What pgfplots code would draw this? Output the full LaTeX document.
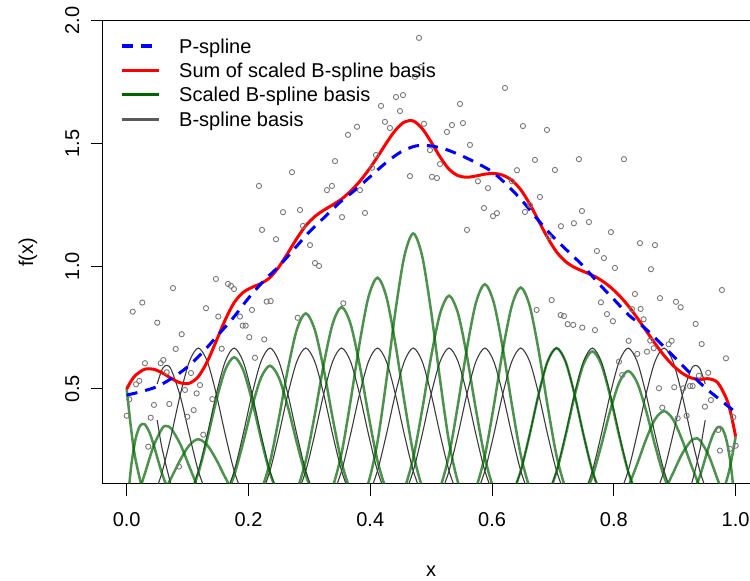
\documentclass[border=0pt]{standalone}
\usepackage{fontspec}
\setmainfont{Liberation Sans}
\usepackage{pgfplots}
\pgfplotsset{compat=1.18}
\definecolor{ptgray}{RGB}{120,120,120}
\definecolor{basisgray}{RGB}{60,60,60}
\definecolor{leggray}{RGB}{90,90,90}
\definecolor{dkgreen}{RGB}{0,100,0}
\begin{document}
\begin{tikzpicture}[font=\fontsize{10}{12}\selectfont]
\begin{axis}[
  at={(0,0)}, anchor=south west, scale only axis,
  width=328.65pt, height=231.5pt,
  xmin=-0.0394, xmax=1.04, ymin=0.1143, ymax=2.0,
  xtick={0,0.2,0.4,0.6,0.8,1.0},
  xticklabels={0.0,0.2,0.4,0.6,0.8,1.0},
  ytick={0.5,1.0,1.5,2.0},
  yticklabels={0.5,1.0,1.5,2.0},
  tick align=outside, major tick length=6pt,
  xtick pos=bottom, ytick pos=left,
  tick style={black, line width=0.5pt},
  axis line style={black, line width=0.5pt},
  xticklabel style={anchor=north, inner sep=0pt},
  xticklabel shift=8.4pt,
  yticklabel style={rotate=90, anchor=south, inner sep=0pt},
  yticklabel shift=5.5pt,
  xlabel={x}, ylabel={f(x)},
  xlabel style={at={(axis description cs:0.4998,-0.1886)}, anchor=center, inner sep=0pt},
  ylabel style={at={(axis description cs:-0.1136,0.5)}, anchor=center, inner sep=0pt},
  legend cell align=left,
  legend image code/.code={\draw[#1] (0pt,0pt) -- (18.5pt,0pt);},
  legend style={draw=none, fill=none, at={(axis description cs:0,1)}, anchor=north west,
    xshift=8.65pt, yshift=-6.55pt, inner sep=0pt, outer sep=0pt, row sep=0pt, column sep=9.5pt,
    nodes={inner sep=0pt, text height=9.7pt, text depth=2.5pt}},
]
\addlegendimage{blue, line width=1.6pt, dash pattern=on 5.5pt off 4pt}
\addlegendentry{P-spline}
\addlegendimage{red, line width=1.6pt}
\addlegendentry{Sum of scaled B-spline basis}
\addlegendimage{dkgreen, line width=1.6pt}
\addlegendentry{Scaled B-spline basis}
\addlegendimage{leggray, line width=1.6pt}
\addlegendentry{B-spline basis}

% data points
\addplot[only marks, mark=o, mark size=1.3pt, color=ptgray, mark options={line width=0.45pt}, forget plot] coordinates {
(.0099,.815)(.0256,.852)(.0502,.770)(.0300,.605)(.0153,.519)(.0207,.533)(.0043,.458)(0,.391)(.0448,.435)(.0394,.383)
(.0355,.265)(.0700,.439)(.0601,.618)(.0558,.605)(.0657,.568)(.0903,.723)(.0805,.663)(.0859,.184)(.0995,.387)(.0957,.496)
(.1100,.414)(.1149,.482)(.1204,.516)(.1056,.565)(.1302,.829)(.1504,.795)(.1406,.459)(.1258,.314)(.1560,.664)(.1860,.795)
(.1905,.758)(.1954,.758)(.2057,.822)(.2013,.711)(.2107,.627)(.2259,.702)(.2299,.856)(.2365,.858)(.2808,.790)(.3557,.849)
(.6979,.862)(.6732,.822)(.7788,.853)(.7887,.805)(.7985,.776)(.7126,.801)(.7181,.797)(.7241,.764)(.7333,.761)(.7481,.750)
(.7690,.740)(.8243,.696)(.8084,.611)(.8138,.557)(.8297,.825)(.8440,.826)(.8489,.784)(.8384,.643)(.8544,.652)(.8598,.697)
(.8654,.666)(.8900,.682)(.8949,.696)(.9097,.833)(.9343,.765)(.9442,.683)(.9841,.625)(.8741,.503)(.8795,.424)(.8992,.507)
(.9048,.381)(.9140,.503)(.9195,.391)(.9250,.512)(.9294,.512)(.9397,.554)(.9550,.566)(.9594,.455)(.9496,.428)(.9714,.333)
(.9742,.249)(.9906,.256)(1.0,.269)(.9961,.385)
(.0760,.911)(.1466,.948)(.1663,.928)(.1713,.920)(.1762,.907)(.2172,1.327)(.2222,1.148)(.2452,1.110)(.2567,1.220)(.2714,1.383)
(.2846,1.229)(.2895,1.164)(.3010,1.086)(.3092,1.013)(.3158,1.001)(.3289,1.310)(.3371,1.327)(.3421,1.428)(.3536,1.200)(.3634,1.535)
(.3782,1.568)(.3831,1.310)(.3913,1.217)(.4028,1.401)(.4094,1.453)(.4176,1.653)(.4241,1.588)(.4323,1.563)(.4422,1.689)(.4488,1.632)
(.4537,1.697)(.4652,1.367)(.4734,1.771)(.4800,1.930)(.4833,1.811)(.4882,1.580)(.4980,1.473)(.5013,1.364)(.5095,1.359)(.5145,1.416)
(.5259,1.547)(.5341,1.575)(.5473,1.661)(.5522,1.583)(.5588,1.148)(.5637,1.494)(.5768,1.346)(.5867,1.237)(.5933,1.318)(.6015,1.204)
(.6080,1.216)(.6212,1.726)(.6327,1.346)(.6409,1.391)(.6507,1.571)(.6540,1.221)(.6622,1.249)(.6704,1.433)(.6786,1.282)(.6901,1.555)
(.6934,1.119)(.7032,1.392)(.7131,1.163)(.7344,1.175)(.7426,1.436)(.7476,1.225)(.7591,1.180)(.7722,1.062)(.7837,1.033)(.7952,1.139)
(.8018,.993)(.8166,1.436)(.8346,.887)(.8429,1.094)(.8609,.988)(.8675,1.086)(.8757,.870)(.9020,.855)(.9775,.903)
};

% B-spline basis (gray)
\pgfplotsset{gb/.style={basisgray, line width=0.55pt, smooth, forget plot}}
\addplot[gb] coordinates {(.05,.373)(.0529,.3308)(.0588,.25)(.0735,.1055)(.0882,.0313)};
\addplot[gb] coordinates {(.05,.5208)(.0588,.5833)(.0662,.5962)(.0735,.5768)(.0882,.4688)(.1029,.3138)(.1176,.1667)(.1324,.0703)(.1471,.0208)};
\addplot[gb] coordinates {(.05,.1024)(.0588,.1667)(.0735,.3151)(.0882,.4792)(.1029,.6120)(.1176,.6667)(.1324,.6120)(.1471,.4792)(.1618,.3151)(.1765,.1667)(.1912,.0703)(.2059,.0208)};
\addplot[gb] coordinates {(.0882,.0208)(.1029,.0703)(.1176,.1667)(.1324,.3151)(.1471,.4792)(.1618,.6120)(.1765,.6667)(.1912,.6120)(.2059,.4792)(.2206,.3151)(.2353,.1667)(.25,.0703)(.2647,.0208)};
\addplot[gb] coordinates {(.1471,.0208)(.1618,.0703)(.1765,.1667)(.1912,.3151)(.2059,.4792)(.2206,.6120)(.2353,.6667)(.25,.6120)(.2647,.4792)(.2794,.3151)(.2941,.1667)(.3088,.0703)(.3235,.0208)};
\addplot[gb] coordinates {(.2059,.0208)(.2206,.0703)(.2353,.1667)(.25,.3151)(.2647,.4792)(.2794,.6120)(.2941,.6667)(.3088,.6120)(.3235,.4792)(.3382,.3151)(.3529,.1667)(.3676,.0703)(.3824,.0208)};
\addplot[gb] coordinates {(.2647,.0208)(.2794,.0703)(.2941,.1667)(.3088,.3151)(.3235,.4792)(.3382,.6120)(.3529,.6667)(.3676,.6120)(.3824,.4792)(.3971,.3151)(.4118,.1667)(.4265,.0703)(.4412,.0208)};
\addplot[gb] coordinates {(.3235,.0208)(.3382,.0703)(.3529,.1667)(.3676,.3151)(.3824,.4792)(.3971,.6120)(.4118,.6667)(.4265,.6120)(.4412,.4792)(.4559,.3151)(.4706,.1667)(.4853,.0703)(.5,.0208)};
\addplot[gb] coordinates {(.3824,.0208)(.3971,.0703)(.4118,.1667)(.4265,.3151)(.4412,.4792)(.4559,.6120)(.4706,.6667)(.4853,.6120)(.5,.4792)(.5147,.3151)(.5294,.1667)(.5441,.0703)(.5588,.0208)};
\addplot[gb] coordinates {(.4412,.0208)(.4559,.0703)(.4706,.1667)(.4853,.3151)(.5,.4792)(.5147,.6120)(.5294,.6667)(.5441,.6120)(.5588,.4792)(.5735,.3151)(.5882,.1667)(.6029,.0703)(.6176,.0208)};
\addplot[gb] coordinates {(.5,.0208)(.5147,.0703)(.5294,.1667)(.5441,.3151)(.5588,.4792)(.5735,.6120)(.5882,.6667)(.6029,.6120)(.6176,.4792)(.6324,.3151)(.6471,.1667)(.6618,.0703)(.6765,.0208)};
\addplot[gb] coordinates {(.5588,.0208)(.5735,.0703)(.5882,.1667)(.6029,.3151)(.6176,.4792)(.6324,.6120)(.6471,.6667)(.6618,.6120)(.6765,.4792)(.6912,.3151)(.7059,.1667)(.7206,.0703)(.7353,.0208)};
\addplot[gb] coordinates {(.6176,.0208)(.6324,.0703)(.6471,.1667)(.6618,.3151)(.6765,.4792)(.6912,.6120)(.7059,.6667)(.7206,.6120)(.7353,.4792)(.75,.3151)(.7647,.1667)(.7794,.0703)(.7941,.0208)};
\addplot[gb] coordinates {(.6765,.0208)(.6912,.0703)(.7059,.1667)(.7206,.3151)(.7353,.4792)(.75,.6120)(.7647,.6667)(.7794,.6120)(.7941,.4792)(.8088,.3151)(.8235,.1667)(.8382,.0703)(.8529,.0208)};
\addplot[gb] coordinates {(.7353,.0208)(.75,.0703)(.7647,.1667)(.7794,.3151)(.7941,.4792)(.8088,.6120)(.8235,.6667)(.8382,.6120)(.8529,.4792)(.8676,.3151)(.8824,.1667)(.8971,.0703)(.9118,.0208)};
\addplot[gb] coordinates {(.7941,.0208)(.8088,.0703)(.8235,.1667)(.8382,.3151)(.8529,.4792)(.8676,.6120)(.8824,.6667)(.8971,.6120)(.9118,.4792)(.9265,.3151)(.9412,.1667)(.95,.1024)};
\addplot[gb] coordinates {(.95,.5208)(.9412,.5833)(.9338,.5962)(.9265,.5768)(.9118,.4688)(.8971,.3138)(.8824,.1667)(.8676,.0703)(.8529,.0208)};
\addplot[gb] coordinates {(.95,.373)(.9471,.3308)(.9412,.25)(.9265,.1055)(.9118,.0313)};

% scaled B-spline basis (green)
\pgfplotsset{sg/.style={dkgreen, opacity=0.7, line width=1.25pt, smooth, forget plot}}
\addplot[sg] coordinates {(0,.5)(.00735,.3350)(.0147,.2109)(.0294,.0625)(.0441,.0078)};
\addplot[sg] coordinates {(0,0)(.00735,.1849)(.0147,.2977)(.02206,.3507)(.0294,.3563)(.03676,.3267)(.0441,.2742)(.0588,.15)(.0735,.0633)(.0882,.0188)};
\addplot[sg] coordinates {(0,0)(.0147,.0465)(.0294,.1523)(.0441,.2674)(.0588,.3412)(.06618,.3488)(.0735,.3374)(.0882,.2742)(.1029,.1836)(.1176,.0975)(.1324,.0411)(.1471,.0122)};
\addplot[sg] coordinates {(.0294,.0092)(.0441,.0311)(.0588,.0738)(.0735,.1396)(.0882,.2123)(.1029,.2711)(.1176,.2953)(.1324,.2711)(.1471,.2123)(.1618,.1396)(.1765,.0738)(.1912,.0311)(.2059,.0092)};
\addplot[sg] coordinates {(.0882,.0197)(.1029,.0664)(.1176,.1573)(.1324,.2975)(.1471,.4524)(.1618,.5777)(.1765,.6293)(.1912,.5777)(.2059,.4524)(.2206,.2975)(.2353,.1573)(.25,.0664)(.2647,.0197)};
\addplot[sg] coordinates {(.1471,.0186)(.1618,.0627)(.1765,.1487)(.1912,.2811)(.2059,.4274)(.2206,.5459)(.2353,.5947)(.25,.5459)(.2647,.4274)(.2794,.2811)(.2941,.1487)(.3088,.0627)(.3235,.0186)};
\addplot[sg] coordinates {(.2059,.0252)(.2206,.0852)(.2353,.2020)(.25,.3819)(.2647,.5808)(.2794,.7417)(.2941,.8080)(.3088,.7417)(.3235,.5808)(.3382,.3819)(.3529,.2020)(.3676,.0852)(.3824,.0252)};
\addplot[sg] coordinates {(.2647,.0260)(.2794,.0879)(.2941,.2084)(.3088,.3939)(.3235,.5990)(.3382,.7650)(.3529,.8334)(.3676,.7650)(.3824,.5990)(.3971,.3939)(.4118,.2084)(.4265,.0879)(.4412,.0260)};
\addplot[sg] coordinates {(.3235,.0297)(.3382,.1005)(.3529,.2384)(.3676,.4506)(.3824,.6853)(.3971,.8752)(.4118,.9534)(.4265,.8752)(.4412,.6853)(.4559,.4506)(.4706,.2384)(.4853,.1005)(.5,.0297)};
\addplot[sg] coordinates {(.3824,.0354)(.3971,.1195)(.4118,.2834)(.4265,.5357)(.4412,.8146)(.4559,1.0404)(.4706,1.1334)(.4853,1.0404)(.5,.8146)(.5147,.5357)(.5294,.2834)(.5441,.1195)(.5588,.0354)};
\addplot[sg] coordinates {(.4412,.0275)(.4559,.0928)(.4706,.2200)(.4853,.4159)(.5,.6325)(.5147,.8078)(.5294,.8800)(.5441,.8078)(.5588,.6325)(.5735,.4159)(.5882,.2200)(.6029,.0928)(.6176,.0275)};
\addplot[sg] coordinates {(.5,.0289)(.5147,.0977)(.5294,.2317)(.5441,.4380)(.5588,.6661)(.5735,.8507)(.5882,.9267)(.6029,.8507)(.6176,.6661)(.6324,.4380)(.6471,.2317)(.6618,.0977)(.6765,.0289)};
\addplot[sg] coordinates {(.5588,.0285)(.5735,.0963)(.5882,.2284)(.6029,.4317)(.6176,.6565)(.6324,.8384)(.6471,.9134)(.6618,.8384)(.6765,.6565)(.6912,.4317)(.7059,.2284)(.7206,.0963)(.7353,.0285)};
\addplot[sg] coordinates {(.6176,.0208)(.6324,.0703)(.6471,.1667)(.6618,.3151)(.6765,.4792)(.6912,.6120)(.7059,.6667)(.7206,.6120)(.7353,.4792)(.75,.3151)(.7647,.1667)(.7794,.0703)(.7941,.0208)};
\addplot[sg] coordinates {(.6765,.0204)(.6912,.0689)(.7059,.1634)(.7206,.3088)(.7353,.4696)(.75,.5998)(.7647,.6534)(.7794,.5998)(.7941,.4696)(.8088,.3088)(.8235,.1634)(.8382,.0689)(.8529,.0204)};
\addplot[sg] coordinates {(.7353,.0179)(.75,.0605)(.7647,.1434)(.7794,.2710)(.7941,.4121)(.8088,.5263)(.8235,.5734)(.8382,.5263)(.8529,.4121)(.8676,.2710)(.8824,.1434)(.8971,.0605)(.9118,.0179)};
\addplot[sg] coordinates {(.7941,.0128)(.8088,.0432)(.8235,.1025)(.8382,.1938)(.8529,.2947)(.8676,.3764)(.8824,.4100)(.8971,.3764)(.9118,.2947)(.9265,.1938)(.9412,.1025)(.9559,.0432)(.9706,.0128)};
\addplot[sg] coordinates {(1,0)(.9853,.0397)(.9706,.1302)(.9559,.2285)(.9412,.2917)(.93382,.2981)(.9265,.2884)(.9118,.2344)(.8971,.1569)(.8824,.0833)(.8676,.0352)(.8529,.0104)};
\addplot[sg] coordinates {(1,0)(.99265,.1787)(.9853,.2877)(.97794,.3390)(.9706,.3444)(.96324,.3158)(.9559,.2651)(.9412,.145)(.9265,.0612)(.9118,.0181)};
\addplot[sg] coordinates {(1,.306)(.99265,.2050)(.9853,.1291)(.9706,.0383)(.9559,.0048)};

% sum of scaled basis (red)
\addplot[red, line width=1.5pt, smooth, forget plot] coordinates {
(0,.500)(.00735,.5327)(.0147,.5562)(.0294,.5803)(.0441,.5805)(.0588,.5651)(.0735,.5428)(.0882,.5249)(.1029,.5234)(.1176,.5502)
(.1324,.6120)(.1471,.6954)(.1618,.7815)(.1765,.8518)(.1912,.8931)(.2059,.9142)(.2206,.9297)(.2353,.9540)(.25,.9974)(.2647,1.0539)
(.2794,1.1131)(.2941,1.1650)(.3088,1.2020)(.3235,1.2281)(.3382,1.2498)(.3529,1.2737)(.3676,1.3052)(.3824,1.3448)(.3971,1.3917)(.4118,1.4450)
(.4265,1.5021)(.4412,1.5533)(.4559,1.5870)(.4706,1.5917)(.4853,1.5605)(.5,1.5058)(.5147,1.4450)(.5294,1.3950)(.5441,1.3689)(.5588,1.3625)
(.5735,1.3674)(.5882,1.3750)(.6029,1.3778)(.6176,1.3708)(.6324,1.3502)(.6471,1.3117)(.6618,1.2538)(.6765,1.1850)(.6912,1.1162)(.7059,1.0583)
(.7206,1.0194)(.7353,.9952)(.75,.9789)(.7647,.9633)(.7794,.9426)(.7941,.9153)(.8088,.8810)(.8235,.8392)(.8382,.7903)(.8529,.7376)
(.8676,.6851)(.8824,.6367)(.8971,.5960)(.9118,.5651)(.9265,.5456)(.9412,.5392)(.9559,.5416)(.9706,.5257)(.9853,.4581)(.99265,.3947)(1,.306)
};

% P-spline (blue dashed)
\addplot[blue, line width=1.5pt, dash pattern=on 5.5pt off 4pt, smooth, forget plot] coordinates {
(0,.475)(.025,.49)(.05,.51)(.075,.545)(.1,.59)(.125,.65)(.15,.72)(.175,.79)(.2,.87)(.225,.94)(.25,1.0)(.275,1.07)(.3,1.14)
(.325,1.20)(.35,1.26)(.375,1.31)(.4,1.365)(.425,1.42)(.45,1.465)(.475,1.49)(.5,1.49)(.525,1.475)(.55,1.45)(.575,1.42)(.6,1.385)
(.625,1.33)(.65,1.265)(.675,1.19)(.7,1.12)(.725,1.06)(.75,1.0)(.775,.93)(.8,.865)(.825,.80)(.85,.75)(.875,.69)(.9,.628)
(.925,.565)(.95,.505)(.975,.455)(1,.405)
};
\end{axis}
\pgfresetboundingbox
\path[use as bounding box] (-51.35pt,-48.65pt) rectangle (323.65pt,241.85pt);
\end{tikzpicture}
\end{document}
